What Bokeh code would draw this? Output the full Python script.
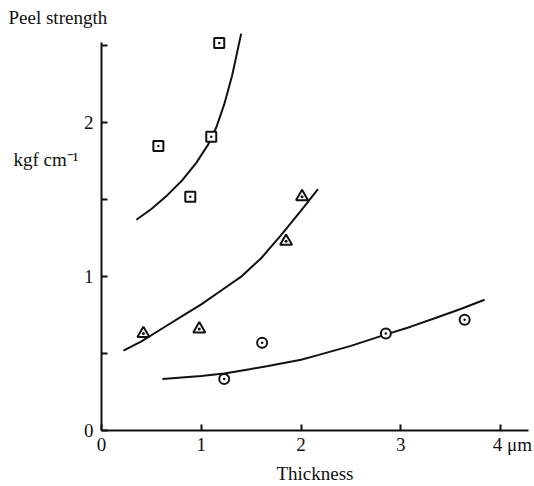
from bokeh.plotting import figure
from bokeh.models import Range1d, FixedTicker, LinearAxis, Title
from bokeh.embed import file_html
from bokeh.resources import INLINE

# --- data ---
sq_x = [1.18, 0.57, 1.10, 0.89]
sq_y = [2.52, 1.85, 1.91, 1.52]
tri_x = [0.42, 0.98, 1.85, 2.01]
tri_y = [0.63, 0.66, 1.23, 1.52]
cir_x = [1.23, 1.61, 2.85, 3.64]
cir_y = [0.335, 0.57, 0.63, 0.72]

# fitted curves
sq_curve_x = [0.35, 0.50, 0.66, 0.80, 0.95, 1.07, 1.15, 1.23, 1.31, 1.40]
sq_curve_y = [1.37, 1.44, 1.53, 1.62, 1.74, 1.86, 1.97, 2.12, 2.31, 2.58]
tri_curve_x = [0.22, 0.40, 0.60, 0.80, 1.00, 1.20, 1.40, 1.60, 1.80, 2.00, 2.17]
tri_curve_y = [0.52, 0.58, 0.66, 0.74, 0.82, 0.91, 1.00, 1.12, 1.27, 1.43, 1.57]
cir_curve_x = [0.61, 1.00, 1.23, 1.50, 1.67, 2.00, 2.17, 2.50, 2.83, 3.10, 3.34, 3.60, 3.84]
cir_curve_y = [0.335, 0.355, 0.37, 0.40, 0.42, 0.46, 0.49, 0.55, 0.62, 0.675, 0.73, 0.79, 0.85]

x_ticks = [0, 1, 2, 3, 4]
x_tick_labels = {0: "0", 1: "1", 2: "2", 3: "3", 4: "\u00a0" * 5 + "4 \u03bcm"}
y_ticks = [0, 0.5, 1, 1.5, 2, 2.5]
y_tick_labels = {0: "0", 0.5: "", 1: "1", 1.5: "", 2: "2", 2.5: ""}
y_unit_pos = [1.76]
y_unit_label = {1.76: "kgf cm\u207b\u00b9"}

FONT = "Liberation Serif"
FS = "19px"
INK = "#111111"

p = figure(width=534, height=486, output_backend="svg", toolbar_location=None,
           x_range=Range1d(0, 4.28), y_range=Range1d(0, 2.62),
           min_border_left=101, min_border_right=6, min_border_top=27,
           min_border_bottom=53)
p.outline_line_color = None
p.xgrid.visible = False
p.ygrid.visible = False
p.background_fill_color = "white"

# axes
xa = p.xaxis[0]
xa.ticker = FixedTicker(ticks=x_ticks)
xa.major_label_overrides = x_tick_labels
xa.major_tick_in = 6
xa.major_tick_out = 0
xa.minor_tick_line_color = None
xa.axis_line_width = 2
xa.axis_line_color = INK
xa.major_tick_line_width = 2
xa.major_tick_line_color = INK
xa.major_label_text_font = FONT
xa.major_label_text_font_size = FS
xa.major_label_text_color = INK
xa.major_label_standoff = 3
xa.axis_label = "Thickness"
xa.axis_label_text_font = FONT
xa.axis_label_text_font_style = "normal"
xa.axis_label_text_font_size = FS
xa.axis_label_text_color = INK
xa.axis_label_standoff = 5

ya = p.yaxis[0]
ya.ticker = FixedTicker(ticks=y_ticks)
ya.major_label_overrides = y_tick_labels
ya.bounds = (0, 2.52)
ya.major_tick_in = 6
ya.major_tick_out = 0
ya.minor_tick_line_color = None
ya.axis_line_width = 2
ya.axis_line_color = INK
ya.major_tick_line_width = 2
ya.major_tick_line_color = INK
ya.major_label_text_font = FONT
ya.major_label_text_font_size = FS
ya.major_label_text_color = INK
ya.major_label_standoff = 8
ya.major_label_orientation = "horizontal"

# unit label as an outer, line-less left axis
ua = LinearAxis(ticker=FixedTicker(ticks=y_unit_pos), major_label_overrides=y_unit_label,
                axis_line_color=None, major_tick_line_color=None,
                minor_tick_line_color=None, major_tick_in=0, major_tick_out=0,
                major_label_standoff=2, major_label_text_font=FONT,
                major_label_text_font_size=FS, major_label_text_color=INK,
                major_label_orientation="horizontal")
p.add_layout(ua, "left")

# title at top-left
p.add_layout(Title(text="Peel strength", align="left", offset=-93, text_font=FONT,
                   text_font_size=FS, text_font_style="normal",
                   text_color=INK, standoff=0), "above")

# curves
for cx, cy in [(sq_curve_x, sq_curve_y), (tri_curve_x, tri_curve_y), (cir_curve_x, cir_curve_y)]:
    p.line(cx, cy, line_color=INK, line_width=2)

# markers
p.scatter(sq_x, sq_y, marker="square_dot", size=10, fill_color="white",
          line_color=INK, line_width=2)
p.scatter(tri_x, tri_y, marker="triangle_dot", size=12, fill_color="white",
          line_color=INK, line_width=2)
p.scatter(cir_x, cir_y, marker="circle_dot", size=10, fill_color="white",
          line_color=INK, line_width=2)

open("out.html", "w").write(file_html(p, INLINE))
